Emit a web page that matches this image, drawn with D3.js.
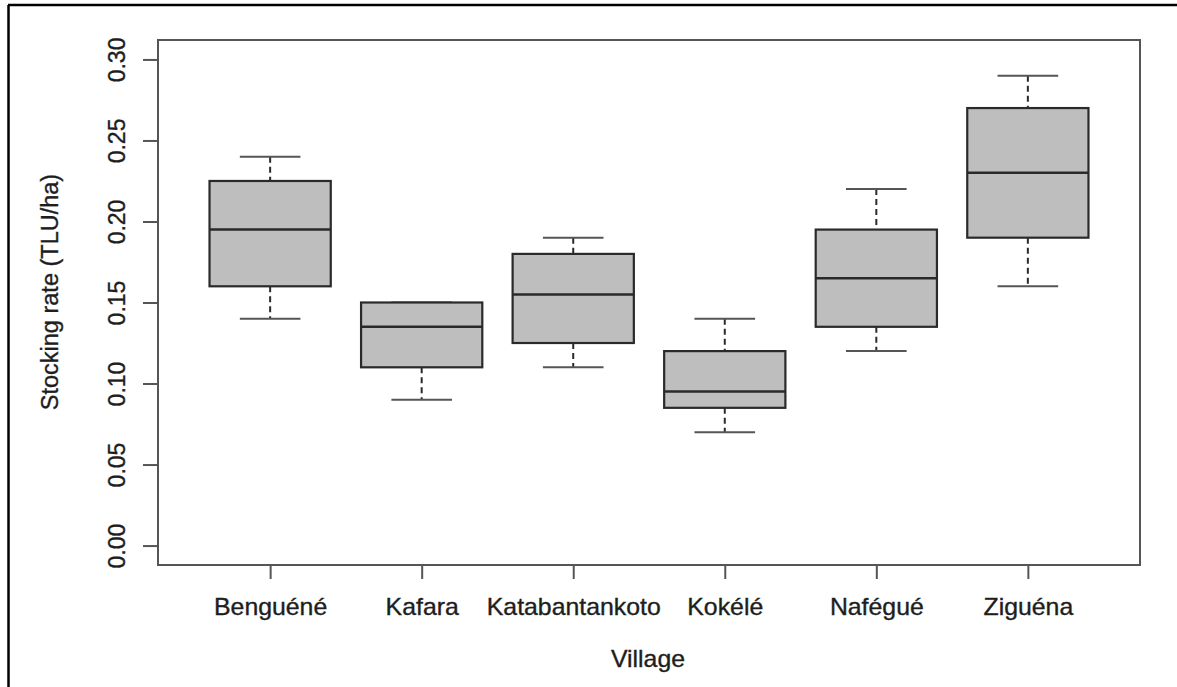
<!DOCTYPE html>
<html>
<head>
<meta charset="utf-8">
<script src="https://cdn.jsdelivr.net/npm/d3@7"></script>
<style>
  html, body { margin: 0; padding: 0; background: #fff; }
  svg { display: block; }
  text { font-family: "Liberation Sans", Arial, sans-serif; fill: #1e1e1e; stroke: #1e1e1e; stroke-width: 0.35px; }
</style>
</head>
<body>
<svg id="chart" width="1177" height="687"></svg>
<script>
// ---- data ----
const villages = ["Benguéné", "Kafara", "Katabantankoto", "Kokélé", "Nafégué", "Ziguéna"];
const whiskerLow  = [0.14, 0.09, 0.11, 0.07, 0.12, 0.16];
const q1          = [0.16, 0.11, 0.125, 0.085, 0.135, 0.19];
const median      = [0.195, 0.135, 0.155, 0.095, 0.165, 0.23];
const q3          = [0.225, 0.15, 0.18, 0.12, 0.195, 0.27];
const whiskerHigh = [0.24, 0.15, 0.19, 0.14, 0.22, 0.29];
const yTicks = [0.00, 0.05, 0.10, 0.15, 0.20, 0.25, 0.30];
const yTitle = "Stocking rate (TLU/ha)";
const xTitle = "Village";

// ---- layout ----
const svg = d3.select("#chart");
const L = 158, R = 1140, T = 40, B = 565;
const FS = 23;
const SX = 1.08;

// outer frame (top and left edges visible)
svg.append("line").attr("x1", 8).attr("x2", 1177).attr("y1", 5).attr("y2", 5)
  .attr("stroke", "#000").attr("stroke-width", 2.5);
svg.append("line").attr("x1", 8.5).attr("x2", 8.5).attr("y1", 5).attr("y2", 687)
  .attr("stroke", "#000").attr("stroke-width", 2.5);

const y = d3.scaleLinear().domain([-0.012, 0.312]).range([B, T]);
const x = d3.scalePoint().domain(villages).range([L, R]).padding(0.74);
const step = x.step();
const halfBox = 0.4 * step;
const halfCap = 0.2 * step;

const data = villages.map((v, i) => ({
  v, lo: whiskerLow[i], q1: q1[i], med: median[i], q3: q3[i], hi: whiskerHigh[i]
}));

const g = svg.append("g");
const boxes = g.selectAll("g.box").data(data).join("g").attr("class", "box");

// whiskers (dashed)
boxes.append("line")
  .attr("x1", d => x(d.v)).attr("x2", d => x(d.v))
  .attr("y1", d => y(d.hi)).attr("y2", d => y(d.q3))
  .attr("stroke", "#2a2a2a").attr("stroke-width", 2).attr("stroke-dasharray", "6,4");
boxes.append("line")
  .attr("x1", d => x(d.v)).attr("x2", d => x(d.v))
  .attr("y1", d => y(d.q1)).attr("y2", d => y(d.lo))
  .attr("stroke", "#2a2a2a").attr("stroke-width", 2).attr("stroke-dasharray", "6,4");
// caps
boxes.append("line")
  .attr("x1", d => x(d.v) - halfCap).attr("x2", d => x(d.v) + halfCap)
  .attr("y1", d => y(d.hi)).attr("y2", d => y(d.hi))
  .attr("stroke", "#555").attr("stroke-width", 2);
boxes.append("line")
  .attr("x1", d => x(d.v) - halfCap).attr("x2", d => x(d.v) + halfCap)
  .attr("y1", d => y(d.lo)).attr("y2", d => y(d.lo))
  .attr("stroke", "#555").attr("stroke-width", 2);
// box
boxes.append("rect")
  .attr("x", d => x(d.v) - halfBox).attr("width", 2 * halfBox)
  .attr("y", d => y(d.q3)).attr("height", d => y(d.q1) - y(d.q3))
  .attr("fill", "#bebebe").attr("stroke", "#2a2a2a").attr("stroke-width", 2.2);
// median
boxes.append("line")
  .attr("x1", d => x(d.v) - halfBox).attr("x2", d => x(d.v) + halfBox)
  .attr("y1", d => y(d.med)).attr("y2", d => y(d.med))
  .attr("stroke", "#2a2a2a").attr("stroke-width", 2.5);

// plot frame
svg.append("rect").attr("x", L).attr("y", T).attr("width", R - L).attr("height", B - T)
  .attr("fill", "none").attr("stroke", "#555").attr("stroke-width", 2);

// y axis
const yAxis = svg.append("g").attr("transform", `translate(${L},0)`)
  .call(d3.axisLeft(y).tickValues(yTicks).tickFormat(d3.format(".2f")).tickSize(15).tickSizeOuter(0));
yAxis.select(".domain").remove();
yAxis.selectAll(".tick line").attr("stroke", "#555").attr("stroke-width", 2);
yAxis.selectAll(".tick text")
  .attr("x", null).attr("dy", null).attr("y", null)
  .attr("transform", "translate(-33,0) rotate(-90)")
  .attr("text-anchor", "middle")
  .style("font-size", FS + "px").style("font-family", "'Liberation Sans', Arial, sans-serif")
  .attr("fill", "#1e1e1e");

// x axis
const xAxis = svg.append("g").attr("transform", `translate(0,${B})`)
  .call(d3.axisBottom(x).tickSize(14).tickSizeOuter(0));
xAxis.select(".domain").remove();
xAxis.selectAll(".tick line").attr("stroke", "#555").attr("stroke-width", 2);
xAxis.selectAll(".tick text")
  .attr("y", null).attr("dy", null)
  .attr("transform", `translate(0,50) scale(${SX},1)`)
  .attr("text-anchor", "middle")
  .style("font-size", FS + "px").style("font-family", "'Liberation Sans', Arial, sans-serif")
  .attr("fill", "#1e1e1e");

// axis titles
svg.append("text")
  .attr("transform", `translate(648,667) scale(${SX},1)`)
  .attr("text-anchor", "middle").style("font-size", FS + "px")
  .text(xTitle);
svg.append("text")
  .attr("transform", "translate(58,292) rotate(-90)")
  .attr("text-anchor", "middle").style("font-size", "23.5px")
  .text(yTitle);
</script>
</body>
</html>
